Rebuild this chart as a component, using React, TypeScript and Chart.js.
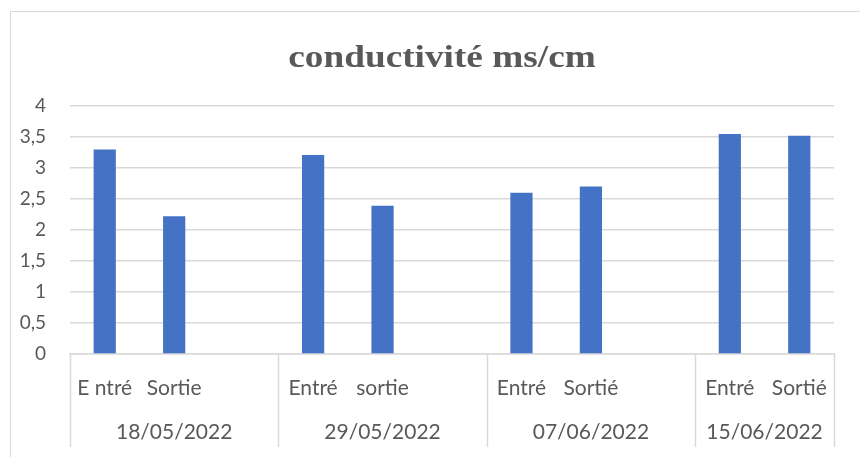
import React, { useEffect, useRef } from "react";
import { Chart, registerables } from "chart.js";

Chart.register(...registerables);

const categories = ["E ntré", "Sortie", "", "Entré", "sortie", "", "Entré", "Sortié", "", "Entré", "Sortié"];
const conductivite = [3.3, 2.22, null, 3.21, 2.39, null, 2.6, 2.7, null, 3.55, 3.52];
const groupLabels = ["18/05/2022", "29/05/2022", "07/06/2022", "15/06/2022"];
const groupSizes = [3, 3, 3, 2];
const yTicks = [0, 0.5, 1, 1.5, 2, 2.5, 3, 3.5, 4];
const titleText = "conductivité ms/cm";

const GRAY = "#595959";
const LINE = "#d9d9d9";

const groupAxisPlugin = {
  id: "groupAxis",
  afterDraw(chart: any) {
    const { ctx, chartArea } = chart;
    const xs = chart.scales.x;
    const top = chartArea.bottom;
    const bottom = top + 93;
    ctx.save();
    ctx.strokeStyle = LINE;
    ctx.lineWidth = 1.5;
    let idx = 0;
    const bounds: number[] = [xs.left];
    groupSizes.forEach((n) => {
      idx += n;
      if (idx < categories.length) {
        bounds.push((xs.getPixelForValue(idx - 1) + xs.getPixelForValue(idx)) / 2);
      } else {
        bounds.push(xs.right);
      }
    });
    bounds.forEach((bx) => {
      ctx.beginPath();
      ctx.moveTo(Math.round(bx) + 0.5, top);
      ctx.lineTo(Math.round(bx) + 0.5, bottom);
      ctx.stroke();
    });
    ctx.fillStyle = GRAY;
    ctx.font = "21px Lato";
    ctx.textAlign = "center";
    ctx.textBaseline = "middle";
    groupLabels.forEach((g, i) => {
      const cx = (bounds[i] + bounds[i + 1]) / 2;
      ctx.fillText(g, cx, top + 78);
    });
    // title (slightly widened like the source)
    ctx.font = "bold 32px 'Liberation Serif'";
    ctx.textBaseline = "alphabetic";
    ctx.translate(442, 67);
    ctx.scale(1.165, 1);
    ctx.fillText(titleText, 0, 0);
    ctx.restore();
  },
};

export default function App() {
  const ref = useRef<HTMLCanvasElement | null>(null);
  useEffect(() => {
    if (!ref.current) return;
    const chart = new Chart(ref.current, {
      type: "bar",
      data: {
        labels: categories,
        datasets: [
          {
            label: titleText,
            data: conductivite as any,
            backgroundColor: "#4472C4",
            borderWidth: 0,
            barPercentage: 0.32,
            categoryPercentage: 1,
          },
        ],
      },
      options: {
        animation: false,
        responsive: false,
        layout: { padding: { left: 10, right: 26, top: 106, bottom: 10 } },
        plugins: {
          legend: { display: false },
          title: { display: false },
          tooltip: { enabled: false },
        },
        scales: {
          x: {
            type: "category",
            grid: { display: false },
            border: { display: true, color: LINE, width: 1.5 },
            ticks: {
              color: GRAY,
              font: { family: "Lato", size: 21 },
              padding: 14,
              maxRotation: 0,
              autoSkip: false,
            },
            afterFit(scale: any) {
              scale.height = 93;
            },
          },
          y: {
            min: 0,
            max: 4,
            afterBuildTicks(scale: any) {
              scale.ticks = yTicks.map((v) => ({ value: v }));
            },
            grid: { color: LINE, lineWidth: 1.5, drawTicks: false },
            border: { display: false },
            ticks: {
              color: GRAY,
              font: { family: "Lato", size: 19 },
              padding: 24,
              callback: (v: any) => String(v).replace(".", ","),
            },
            afterFit(scale: any) {
              scale.width = 60;
            },
          },
        },
      },
      plugins: [groupAxisPlugin],
    });
    return () => chart.destroy();
  }, []);
  return (
    <div style={{ position: "fixed", left: 0, top: 0, width: 860, height: 457, background: "#fff", overflow: "hidden" }}>
      <div
        style={{
          position: "absolute",
          left: 10,
          top: 11,
          width: 900,
          height: 500,
          borderLeft: "1.5px solid #d9d9d9",
          borderTop: "1.5px solid #d9d9d9",
        }}
      />
      <canvas ref={ref} width={860} height={457} style={{ position: "absolute", left: 0, top: 0 }} />
    </div>
  );
}
